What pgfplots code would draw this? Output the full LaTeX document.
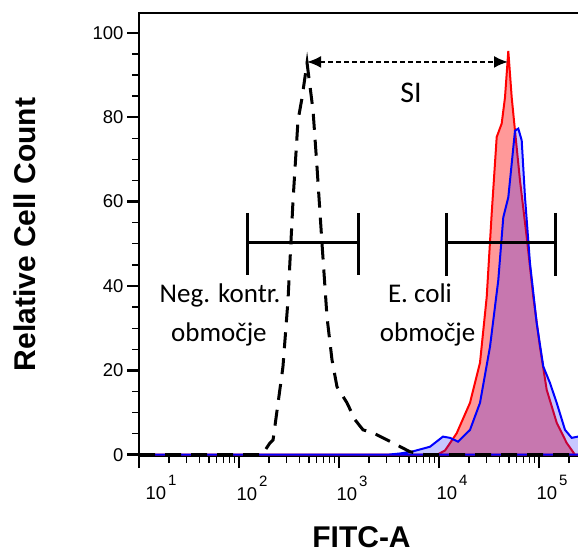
\documentclass[border=0pt]{standalone}
\usepackage{fontspec}
\setmainfont{Liberation Sans}
\newfontfamily\carl{Carlito}
\usepackage{pgfplots}
\pgfplotsset{compat=1.18}
\usetikzlibrary{arrows.meta}
\newcommand\tp[1]{10\hspace{2pt}\raisebox{14pt}{\fontsize{15}{15}\selectfont #1}}
\begin{document}
\begin{tikzpicture}
\begin{axis}[
  name=ax,
  scale only axis,
  width=445pt, height=443pt,
  xmode=log, log basis x=10,
  xmin=10, xmax=281838,
  ymin=-0.3, ymax=104.7,
  axis x line*=bottom, axis y line*=left,
  axis line style={line width=2pt, black},
  tick align=outside,
  major tick length=12pt, minor tick length=7pt,
  major tick style={line width=2.5pt, black},
  minor tick style={line width=1.3pt, black},
  xtick={10,100,1000,10000,100000},
  xticklabels={\hspace*{18pt}\tp{1},\tp{2},\tp{3},\tp{4},\tp{5}},
  minor xtick={20,30,40,50,60,70,80,90,200,300,400,500,600,700,800,900,2000,3000,4000,5000,6000,7000,8000,9000,20000,30000,40000,50000,60000,70000,80000,90000,200000},
  xticklabel style={xshift=13pt, yshift=-4pt, font=\fontsize{18.5}{20}\selectfont},
  ytick={0,20,40,60,80,100},
  minor ytick={5,10,15,25,30,35,45,50,55,65,70,75,85,90,95},
  yticklabel style={font=\fontsize{18.5}{20}\selectfont},
  /pgf/number format/assume math mode=true,
  xlabel={FITC-A},
  ylabel={Relative Cell Count},
  xlabel style={at={(axis description cs:0.5,-0.183)}, anchor=center, font=\fontsize{30}{32}\selectfont\bfseries},
  ylabel style={at={(axis description cs:-0.2562,0.5)}, anchor=center, rotate=0, font=\fontsize{30}{32}\selectfont\bfseries},
  clip=true,
]
% E. coli sample (red)
\addplot[draw=red, line width=2pt, fill=red, fill opacity=0.4] table {
x y
10 0
9550 0
11480 1
15030 5.1
20420 12.3
25700 21.8
30000 37.4
33650 57.2
37760 75.3
42360 78.5
45710 84.7
49320 95.7
53330 84.7
57540 76.8
64570 65.0
75340 51.6
87700 37.4
102300 25.5
119400 15.4
150300 7.6
189200 2.8
229000 0
281838 0
} \closedcycle;
% second sample (blue)
\addplot[draw=blue, line width=2pt, fill=blue, fill opacity=0.22] table {
x y
10 0
3020 0
4074 0.3
5495 0.8
8128 1.9
10960 4.3
12880 4.0
15490 3.1
20420 5.9
25700 12.3
32360 25.6
39170 41.4
43950 56.3
49320 61.0
53330 69.0
57540 76.8
62090 77.3
67140 74.5
72440 61.0
81280 45.4
94840 31.2
110400 20.9
128800 17.0
150300 12.3
182000 5.9
212300 4.0
245500 4.3
281838 4.3
} \closedcycle;
% negative control (dashed)
\addplot[black, line width=3pt, dash pattern=on 16pt off 10pt] table {
x y
10 0
170 0
204 2.8
219 3.5
275 20.8
309 36.6
347 60.3
389 79.2
427 84.6
479 92.9
550 81.6
603 68.1
676 50.1
759 32.6
851 22.5
955 16.1
1202 12.3
1445 8.3
1738 5.9
2188 5.2
3467 2.8
5129 0.7
7244 0
281838 0
};
% gates
\addplot[black, line width=3pt] coordinates {(123,50.4) (1549,50.4)};
\addplot[black, line width=3pt] coordinates {(123,57.3) (123,42.6)};
\addplot[black, line width=3pt] coordinates {(1549,57.3) (1549,42.6)};
\addplot[black, line width=3pt] coordinates {(11750,50.4) (147900,50.4)};
\addplot[black, line width=3pt] coordinates {(11750,57.3) (11750,42.4)};
\addplot[black, line width=3pt] coordinates {(147900,57.3) (147900,42.4)};
% SI arrow
\draw[line width=2pt, dash pattern=on 5pt off 3pt, {Latex[length=14pt,width=12pt]}-{Latex[length=14pt,width=12pt]}] (axis cs:479,93.1) -- (axis cs:49000,93.1);
\node[font=\carl\fontsize{30}{32}\selectfont, anchor=base] at (axis cs:5248,83.6) {SI};
\node[font=\carl\fontsize{27}{29}\selectfont, anchor=base] at (axis cs:64.6,36.0) {Neg. kontr.};
\node[font=\carl\fontsize{27}{29}\selectfont, anchor=base] at (axis cs:63,26.8) {območje};
\node[font=\carl\fontsize{27}{29}\selectfont, anchor=base] at (axis cs:6457,36.0) {E. coli};
\node[font=\carl\fontsize{27}{29}\selectfont, anchor=base] at (axis cs:7700,26.8) {območje};
\end{axis}
\draw[line width=2pt] ([xshift=-1pt]ax.north west) -- ++(460pt,0);
\pgfresetboundingbox
\path[use as bounding box] ([shift={(-139pt,-99pt)}]ax.south west) rectangle ([shift={(439pt,13pt)}]ax.north west);
\end{tikzpicture}
\end{document}
